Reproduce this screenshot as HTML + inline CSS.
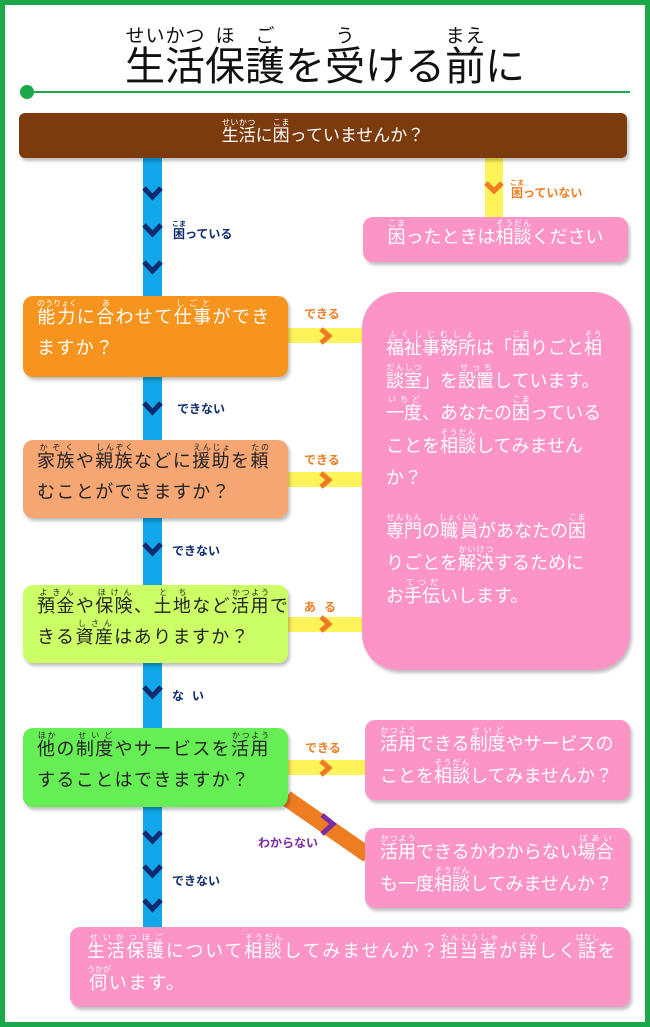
<!DOCTYPE html>
<html><head><meta charset="utf-8"><style>
body{margin:0;width:650px;height:1027px;position:relative;background:#fff;overflow:hidden;font-family:"Liberation Sans","Noto Sans CJK JP",sans-serif;}
.frame{position:absolute;left:0;top:0;width:640px;height:1017px;border:5px solid #1aa84a;}
.abs{position:absolute;}
.box{position:absolute;border-radius:10px;box-shadow:2px 3px 3px rgba(0,0,0,.25);box-sizing:border-box;}
ruby{ruby-position:over;}
rt{font-size:8px;line-height:8px;letter-spacing:0;}
.q{font-size:18px;line-height:31px;color:#222;padding:6px 0 0 14px;white-space:nowrap;letter-spacing:1.4px;}
.w{font-size:18px;line-height:31px;color:#fff;white-space:nowrap;}
.lbl{position:absolute;font-size:12px;font-weight:bold;}
.lbl rt{font-size:7px;}
</style></head><body>
<div class="frame"></div>
<div class="abs" style="left:0;top:26px;width:650px;text-align:center;font-size:40px;line-height:70px;color:#111;">
<ruby>生活<rt style="font-size:19px;line-height:20px">せいかつ</rt></ruby><ruby>保護<rt style="font-size:19px;line-height:20px">ほご</rt></ruby>を<ruby>受<rt style="font-size:19px;line-height:20px">う</rt></ruby>ける<ruby>前<rt style="font-size:19px;line-height:20px">まえ</rt></ruby>に</div>
<svg class="abs" style="left:0;top:0" width="650" height="1027">
<line x1="22" y1="92" x2="630" y2="92" stroke="#1aa84a" stroke-width="2"/>
<circle cx="27" cy="92" r="7" fill="#1aa84a"/>
<rect x="143" y="150" width="19" height="785" fill="#11a7e8"/>
<rect x="485" y="150" width="18" height="70" fill="#fff35a"/>
<rect x="288" y="328" width="76" height="15" fill="#fff35a"/>
<rect x="288" y="472" width="76" height="15" fill="#fff35a"/>
<rect x="288" y="617" width="76" height="15" fill="#fff35a"/>
<rect x="288" y="760" width="78" height="15" fill="#fff35a"/>
<line x1="286" y1="798" x2="368" y2="855" stroke="#ee7d22" stroke-width="16"/>
<g fill="none" stroke="#0d2b6e" stroke-width="5">
<polyline points="144,188 152.5,197 161,188"/>
<polyline points="144,225 152.5,234 161,225"/>
<polyline points="144,262 152.5,271 161,262"/>
<polyline points="144,403 152.5,412 161,403"/>
<polyline points="144,544 152.5,553 161,544"/>
<polyline points="144,687 152.5,696 161,687"/>
<polyline points="144,832 152.5,841 161,832"/>
<polyline points="144,866 152.5,875 161,866"/>
<polyline points="144,900 152.5,909 161,900"/>
</g>
<g fill="none" stroke="#ee7d22" stroke-width="5">
<polyline points="486,183 494,191 502,183"/>
<polyline points="321,329 329,336 321,343"/>
<polyline points="321,473 329,480 321,487"/>
<polyline points="321,617 329,624 321,631"/>
<polyline points="321,761 329,768 321,775"/>
</g>
<polyline points="322,815 333,824 322,834" fill="none" stroke="#7a2ca0" stroke-width="5"/>
</svg>
<div class="box" style="left:19px;top:113px;width:608px;height:45px;background:#7b3b0c;border-radius:6px;text-align:center;"><div class="w" style="font-size:17px;line-height:30px;padding-top:8px"><ruby>生活<rt>せいかつ</rt></ruby>に<ruby>困<rt>こま</rt></ruby>っていませんか？</div></div>
<div class="lbl" style="left:510px;top:180px;color:#ee7d22"><ruby>困<rt>こま</rt></ruby>っていない</div>
<div class="lbl" style="left:172px;top:221px;color:#0d2b6e"><ruby>困<rt>こま</rt></ruby>っている</div>
<div class="box" style="left:363px;top:217px;width:265px;height:45px;background:#fd94c8;text-align:center;"><div class="w" style="padding-top:5px"><ruby>困<rt>こま</rt></ruby>ったときは<ruby>相談<rt>そうだん</rt></ruby>ください</div></div>

<div class="box" style="left:23px;top:296px;width:265px;height:81px;background:#f7941d;"><div class="q" style="color:#fff"><ruby>能力<rt>のうりょく</rt></ruby>に<ruby>合<rt>あ</rt></ruby>わせて<ruby>仕事<rt>しごと</rt></ruby>ができ<br>ますか？</div></div>
<div class="lbl" style="left:304px;top:305px;color:#ee7d22">できる</div>
<div class="lbl" style="left:177px;top:400px;color:#0d2b6e">できない</div>
<div class="box" style="left:23px;top:440px;width:265px;height:78px;background:#f5a673;"><div class="q"><ruby>家族<rt>かぞく</rt></ruby>や<ruby>親族<rt>しんぞく</rt></ruby>などに<ruby>援助<rt>えんじょ</rt></ruby>を<ruby>頼<rt>たの</rt></ruby><br>むことができますか？</div></div>
<div class="lbl" style="left:304px;top:451px;color:#ee7d22">できる</div>
<div class="lbl" style="left:172px;top:542px;color:#0d2b6e">できない</div>
<div class="box" style="left:23px;top:585px;width:265px;height:78px;background:#ccff66;"><div class="q"><ruby>預金<rt>よきん</rt></ruby>や<ruby>保険<rt>ほけん</rt></ruby>、<ruby>土地<rt>とち</rt></ruby>など<ruby>活用<rt>かつよう</rt></ruby>で<br>きる<ruby>資産<rt>しさん</rt></ruby>はありますか？</div></div>
<div class="lbl" style="left:304px;top:598px;color:#ee7d22;letter-spacing:8px">ある</div>
<div class="lbl" style="left:172px;top:687px;color:#0d2b6e;letter-spacing:8px">ない</div>
<div class="box" style="left:23px;top:728px;width:265px;height:79px;background:#66ee55;"><div class="q"><ruby>他<rt>ほか</rt></ruby>の<ruby>制度<rt>せいど</rt></ruby>やサービスを<ruby>活用<rt>かつよう</rt></ruby><br>することはできますか？</div></div>
<div class="lbl" style="left:305px;top:739px;color:#ee7d22">できる</div>
<div class="lbl" style="left:258px;top:834px;color:#7a2ca0">わからない</div>
<div class="lbl" style="left:172px;top:872px;color:#0d2b6e">できない</div>

<div class="box" style="left:362px;top:292px;width:268px;height:378px;background:#fd94c8;border-radius:36px;padding:38px 0 0 24px;"><div class="w" style="line-height:32.5px;width:225px"><ruby>福祉事務所<rt>ふくしじむしょ</rt></ruby>は「<ruby>困<rt>こま</rt></ruby>りごと<ruby>相<rt>そう</rt></ruby><br><ruby>談室<rt>だんしつ</rt></ruby>」を<ruby>設置<rt>せっち</rt></ruby>しています。<br><ruby>一度<rt>いちど</rt></ruby>、あなたの<ruby>困<rt>こま</rt></ruby>っている<br>ことを<ruby>相談<rt>そうだん</rt></ruby>してみません<br>か？<div style="height:18px"></div><ruby>専門<rt>せんもん</rt></ruby>の<ruby>職員<rt>しょくいん</rt></ruby>があなたの<ruby>困<rt>こま</rt></ruby><br>りごとを<ruby>解決<rt>かいけつ</rt></ruby>するために<br>お<ruby>手伝<rt>てつだ</rt></ruby>いします。</div></div>
<div class="box" style="left:365px;top:720px;width:265px;height:80px;background:#fd94c8;padding:6px 0 0 15px;"><div class="w" style="line-height:32px"><ruby>活用<rt>かつよう</rt></ruby>できる<ruby>制度<rt>せいど</rt></ruby>やサービスの<br>ことを<ruby>相談<rt>そうだん</rt></ruby>してみませんか？</div></div>
<div class="box" style="left:365px;top:828px;width:265px;height:80px;background:#fd94c8;padding:6px 0 0 15px;"><div class="w" style="line-height:32px"><ruby>活用<rt>かつよう</rt></ruby>できるかわからない<ruby>場合<rt>ばあい</rt></ruby><br>も一度<ruby>相談<rt>そうだん</rt></ruby>してみませんか？</div></div>
<div class="box" style="left:70px;top:927px;width:560px;height:80px;background:#fd94c8;padding:6px 0 0 17px;"><div class="w" style="line-height:32px;letter-spacing:1.7px"><ruby>生活保護<rt>せいかつほご</rt></ruby>について<ruby>相談<rt>そうだん</rt></ruby>してみませんか？<ruby>担当者<rt>たんとうしゃ</rt></ruby>が<ruby>詳<rt>くわ</rt></ruby>しく<ruby>話<rt>はなし</rt></ruby>を<br><ruby>伺<rt>うかが</rt></ruby>います。</div></div>
</body></html>
